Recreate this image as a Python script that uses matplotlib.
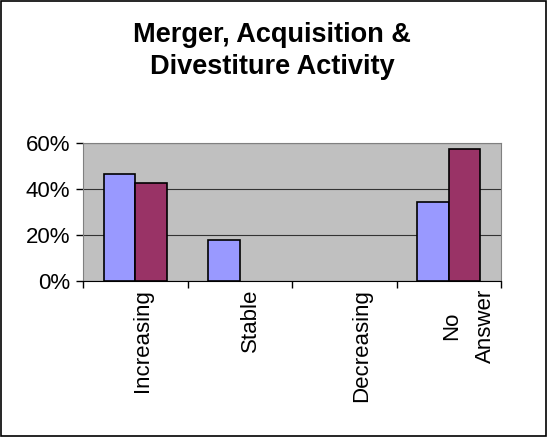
import matplotlib
matplotlib.use("Agg")
import matplotlib.pyplot as plt
import numpy as np
from matplotlib.patches import Rectangle

plt.rcParams["font.family"] = ["Liberation Sans", "DejaVu Sans"]

categories = ["Increasing", "Stable", "Decreasing", "No\nAnswer"]
series_a = [0.465, 0.18, 0.0, 0.345]
series_b = [0.425, 0.0, 0.0, 0.575]

fig = plt.figure(figsize=(5.48, 4.37), dpi=100)
fig.patches.append(Rectangle((0.002, 0.002), 0.995, 0.995, transform=fig.transFigure,
                             fill=False, edgecolor="black", linewidth=1.2))

ax = fig.add_axes([83 / 548, 1 - 281 / 437, 418 / 548, 138 / 437])
ax.set_facecolor("#C0C0C0")

x = np.arange(len(categories))
w = 0.3
a = np.array(series_a)
b = np.array(series_b)
ka = a > 0
kb = b > 0
ax.bar(x[ka] - w / 2, a[ka], w, color="#9999FF", edgecolor="black", linewidth=1.2, zorder=3)
ax.bar(x[kb] + w / 2, b[kb], w, color="#993366", edgecolor="black", linewidth=1.2, zorder=3)

ax.set_xlim(-0.5, len(categories) - 0.5)
ax.set_ylim(0, 0.6)
ax.set_yticks([0, 0.2, 0.4, 0.6])
ax.set_yticklabels(["0%", "20%", "40%", "60%"], fontsize=16)
ax.yaxis.grid(True, color="#333333", linewidth=0.8, zorder=1)

ax.set_xticks(np.arange(-0.5, len(categories)))
ax.set_xticklabels([])
ax.tick_params(axis="x", direction="out", length=5, width=1)
ax.tick_params(axis="y", direction="out", length=5, width=1, pad=4)

# Excel-style label placement, nudged right a bit
label_shift = [0.07, 0.1, 0.17, 0.19]
for i, c in enumerate(categories):
    ax.text(i + label_shift[i], -0.035, c, rotation=90, ha="center", va="top", fontsize=16,
            multialignment="center", linespacing=1.75)

for s in ["top", "right", "left"]:
    ax.spines[s].set_color("#808080")
ax.spines["bottom"].set_color("black")

fig.text(0.497, 1 - 51 / 437, "Merger, Acquisition &\nDivestiture Activity", ha="center",
         va="center", fontsize=19.5, fontweight="bold", linespacing=1.27)

fig.savefig("out.png", dpi=100)
